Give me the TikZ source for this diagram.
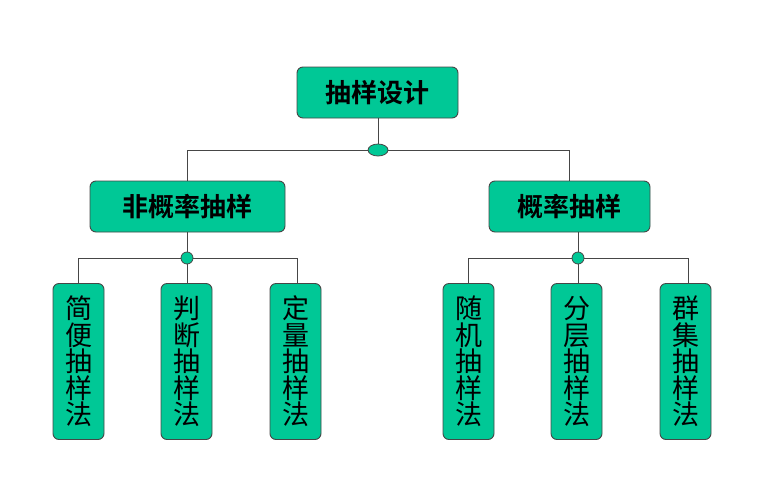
\documentclass[tikz,border=0pt]{standalone}
\usepackage{fontspec}
\newfontfamily\cjk{Noto Sans CJK SC}
\newfontfamily\cjkb{Noto Sans CJK SC Bold}
\usetikzlibrary{shapes.geometric}
\definecolor{boxgreen}{RGB}{0,200,150}
\definecolor{edgegray}{RGB}{70,70,70}
\tikzset{
  box/.style={draw=edgegray, line width=0.9pt, fill=boxgreen, rounded corners=6pt, inner sep=0pt},
  topbox/.style={box, minimum width=161pt, minimum height=51pt, font=\cjkb\fontsize{26}{28}\selectfont},
  leafbox/.style={box, minimum width=51pt, minimum height=156pt, font=\cjk\fontsize{27}{26.5}\selectfont, align=center},
  link/.style={draw=edgegray, line width=0.7pt},
  dot/.style={draw=edgegray, line width=0.8pt, fill=boxgreen, ellipse, inner sep=0pt}
}
\begin{document}
\begin{tikzpicture}[x=1pt,y=-1pt]
\useasboundingbox (0,0) rectangle (778,477);
\node[topbox] (root) at (377.5,92.5) {抽样设计};
\node[topbox, minimum width=195pt] (non) at (187.5,206.5) {非概率抽样};
\node[topbox] (prob) at (569.5,206.5) {概率抽样};
\node[dot, minimum width=20pt, minimum height=12pt] (d0) at (378,150) {};
\node[dot, minimum width=12pt, minimum height=12pt] (d1) at (187,258) {};
\node[dot, minimum width=12pt, minimum height=12pt] (d2) at (578,258) {};
\node[leafbox] (a1) at (78.5,361.5) {简\\便\\抽\\样\\法};
\node[leafbox] (a2) at (186.5,361.5) {判\\断\\抽\\样\\法};
\node[leafbox] (a3) at (295.5,361.5) {定\\量\\抽\\样\\法};
\node[leafbox] (b1) at (468.5,361.5) {随\\机\\抽\\样\\法};
\node[leafbox] (b2) at (576.5,361.5) {分\\层\\抽\\样\\法};
\node[leafbox] (b3) at (685.5,361.5) {群\\集\\抽\\样\\法};
\draw[link] (root.south -| d0.north) -- (d0.north);
\draw[link] (d0.west) -| (non.north);
\draw[link] (d0.east) -| (prob.north);
\draw[link] (non.south -| d1.north) -- (d1.north);
\draw[link] (d1.west) -| (a1.north);
\draw[link] (d1.south) -- (d1.south |- a2.north);
\draw[link] (d1.east) -| ([xshift=2pt]a3.north);
\draw[link] (prob.south -| d2.north) -- (d2.north);
\draw[link] (d2.west) -| (b1.north);
\draw[link] (d2.south) -- (d2.south |- b2.north);
\draw[link] (d2.east) -| ([xshift=2.5pt]b3.north);
\end{tikzpicture}
\end{document}
